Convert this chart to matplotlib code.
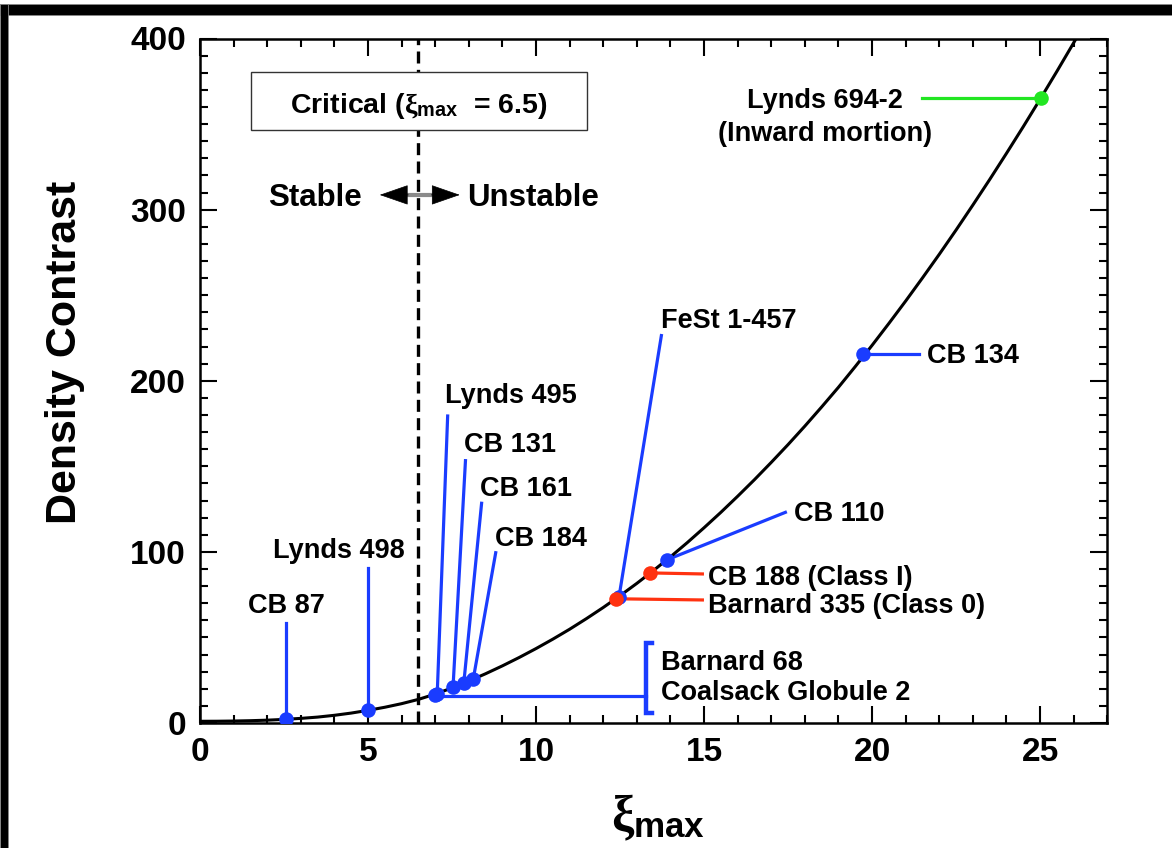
import matplotlib
matplotlib.use("Agg")
import matplotlib.pyplot as plt
from matplotlib.patches import Rectangle
from matplotlib.ticker import MultipleLocator

plt.rcParams["font.family"] = ["Liberation Sans", "DejaVu Sans"]
plt.rcParams["font.weight"] = "bold"
plt.rcParams["mathtext.fontset"] = "custom"
plt.rcParams["mathtext.rm"] = "Liberation Sans:bold"
plt.rcParams["mathtext.bf"] = "Liberation Sans:bold"
plt.rcParams["mathtext.it"] = "Liberation Serif"

# Equilibrium curve: density contrast versus dimensionless radius xi_max
xi_curve = [0.0, 0.5, 1.0, 1.5, 2.0, 2.5, 3.0, 3.5, 4.0, 4.5, 5.0, 5.5, 6.0,
            6.5, 7.0, 7.5, 8.0, 8.5, 9.0, 9.5, 10.0, 10.5, 11.0, 11.5, 12.0,
            12.5, 13.0, 13.5, 14.0, 14.5, 15.0, 15.5, 16.0, 16.5, 17.0, 17.5,
            18.0, 18.5, 19.0, 19.5, 20.0, 20.5, 21.0, 21.5, 22.0, 22.5, 23.0,
            23.5, 24.0, 24.5, 25.0, 25.5, 26.0, 26.5]
contrast_curve = [1.00, 1.03, 1.15, 1.35, 1.65, 2.1, 2.7, 3.45, 4.5, 5.8, 7.4,
                  9.2, 11.3, 13.8, 16.9, 20.5, 24.5, 28.8, 33.4, 38.3, 43.5,
                  49.0, 54.8, 61.0, 67.5, 74.4, 81.6, 89.2, 97.1, 105.4, 114.1,
                  123.1, 132.5, 142.2, 152.3, 162.7, 173.5, 184.7, 196.2,
                  208.3, 220.7, 233.5, 246.6, 260.1, 273.9, 288.1, 302.7,
                  317.6, 332.9, 348.5, 364.5, 380.8, 397.5, 414.5]

xi_critical = 6.5

# Globules (blue)
blue_names = ["CB 87", "Lynds 498", "Barnard 68", "Lynds 495", "CB 131",
              "CB 161", "CB 184", "FeSt 1-457", "CB 110", "CB 134"]
blue_xi = [2.56, 5.0, 6.98, 7.06, 7.53, 7.85, 8.13, 12.47, 13.90, 19.74]
blue_contrast = [2.2, 7.5, 16.6, 17.2, 21.0, 23.3, 25.5, 73.8, 95.4, 215.5]

# Star-forming globules (red)
red_names = ["CB 188 (Class I)", "Barnard 335 (Class 0)"]
red_xi = [13.40, 12.37]
red_contrast = [87.7, 72.6]

# Infalling core (green)
green_names = ["Lynds 694-2\n(Inward mortion)"]
green_xi = [25.03]
green_contrast = [365.5]

BLUE = "#1a3cff"
RED = "#ff3210"
GREEN = "#22e622"

fig = plt.figure(figsize=(11.72, 8.48), dpi=100)
ax = fig.add_axes([200 / 1172, 1 - 723 / 848, 907.3 / 1172, 684.5 / 848])
ax.set_xlim(0, 27)
ax.set_ylim(0, 400)

ax.plot(xi_curve, contrast_curve, color="black", lw=2.2, zorder=3,
        solid_joinstyle="round")
ax.axvline(xi_critical, color="black", lw=2.4, dashes=(3.6, 1.9), zorder=2)

LW = 2.3
# Leader lines: end point of the leader, label position, alignment
layout = {
    "CB 87": ((2.56, 58.4), (2.56, 68.5), "center"),
    "Lynds 498": ((5.0, 90.6), (4.13, 100.7), "center"),
    "Lynds 495": ((7.37, 179.4), (7.29, 191.1), "left"),
    "CB 131": ((7.90, 153.3), (7.86, 162.2), "left"),
    "CB 161": ((8.38, 128.4), (8.33, 136.5), "left"),
    "CB 184": ((8.80, 99.5), (8.77, 107.7), "left"),
    "FeSt 1-457": ((13.73, 226.4), (13.73, 234.9), "left"),
    "CB 110": ((17.42, 123.1), (17.69, 122.3), "left"),
    "CB 134": ((21.39, 215.5), (21.63, 214.3), "left"),
}
lab_fs = 19.5
for name, x, y in zip(blue_names, blue_xi, blue_contrast):
    if name not in layout:
        continue
    (ex, ey), (tx, ty), ha = layout[name]
    ax.plot([x, ex], [y, ey], color=BLUE, lw=LW, zorder=2)
    ax.text(tx, ty, name, ha=ha, va="center", fontsize=lab_fs,
            fontweight="bold")

# Barnard 68 / Coalsack Globule 2 bracket
b68_x = blue_xi[2]
ax.plot([b68_x, 13.28], [16.0, 16.0], color=BLUE, lw=LW, zorder=2)
ax.plot([13.45, 13.28, 13.28, 13.45], [46.6, 46.6, 5.7, 5.7], color=BLUE,
        lw=3.2, zorder=2, solid_joinstyle="miter")
ax.text(13.73, 35.2, "Barnard 68", ha="left", va="center", fontsize=lab_fs,
        fontweight="bold")
ax.text(13.73, 17.3, "Coalsack Globule 2", ha="left", va="center",
        fontsize=lab_fs, fontweight="bold")

# Red points
red_layout = [((14.95, 87.1), (15.12, 84.9)), ((14.95, 71.9), (15.12, 68.4))]
for name, x, y, ((ex, ey), (tx, ty)) in zip(red_names, red_xi, red_contrast,
                                            red_layout):
    ax.plot([x, ex], [y, ey], color=RED, lw=LW, zorder=2)
    ax.text(tx, ty, name, ha="left", va="center", fontsize=lab_fs,
            fontweight="bold")

# Green point
gx, gy = green_xi[0], green_contrast[0]
ax.plot([gx, 21.49], [gy, gy], color=GREEN, lw=LW, zorder=2)
line1, line2 = green_names[0].split("\n")
ax.text(18.6, 363.5, line1, ha="center", va="center", fontsize=lab_fs,
        fontweight="bold")
ax.text(18.6, 344.0, line2, ha="center", va="center", fontsize=lab_fs,
        fontweight="bold")

MS = 10.5
ax.plot(blue_xi, blue_contrast, "o", color=BLUE, ms=MS, mew=0, zorder=5)
ax.plot(red_xi, red_contrast, "o", color=RED, ms=MS, mew=0, zorder=5)
ax.plot(green_xi, green_contrast, "o", color=GREEN, ms=MS, mew=0, zorder=5)

# Critical value box
ax.add_patch(Rectangle((1.52, 346.6), 10.01, 33.7, facecolor="white",
                       edgecolor="#333333", lw=1.0, zorder=4))
ax.text(6.52, 356.3, r"Critical ($\xi_{\mathbf{max}}$  = 6.5)", ha="center",
        va="baseline", fontsize=20.5, fontweight="bold", zorder=6)

# Stable / Unstable arrows
ax.plot([5.9, 7.2], [308.6, 308.6], color="#8a8a8a", lw=3, zorder=3)
for tip, tail in ((5.35, 6.2), (7.73, 6.88)):
    ax.annotate("", xy=(tip, 308.6), xytext=(tail, 308.6),
                arrowprops=dict(arrowstyle="-|>,head_length=0.95,head_width=0.33",
                                mutation_scale=20, color="black", lw=0.5,
                                shrinkA=0, shrinkB=0),
                zorder=4)
ax.text(4.81, 307.0, "Stable", ha="right", va="center", fontsize=22.5,
        fontweight="bold")
ax.text(7.96, 307.0, "Unstable", ha="left", va="center", fontsize=22.5,
        fontweight="bold")

# Axes styling
for sp in ax.spines.values():
    sp.set_linewidth(1.8)
ax.xaxis.set_major_locator(MultipleLocator(5))
ax.xaxis.set_minor_locator(MultipleLocator(1))
ax.yaxis.set_major_locator(MultipleLocator(100))
ax.yaxis.set_minor_locator(MultipleLocator(10))
ax.tick_params(which="both", direction="in", top=True, right=True, width=1.5)
ax.tick_params(which="major", length=12, labelsize=24, pad=10)
ax.tick_params(which="minor", length=5.5)
for lab in ax.get_xticklabels() + ax.get_yticklabels():
    lab.set_fontweight("bold")

fig.text(65 / 1172, 1 - 352 / 848, "Density Contrast", rotation=90,
         ha="center", va="center", fontsize=31, fontweight="bold")
fig.text(658 / 1172, 1 - 818 / 848, r"$\xi_{\mathbf{max}}$", ha="center",
         va="center", fontsize=36)

# Black frame along the top and left edges
fig.patches.append(Rectangle((0, 1 - 15 / 848), 1, 11 / 848,
                             transform=fig.transFigure, facecolor="black",
                             edgecolor="#888888", lw=0.6))
fig.patches.append(Rectangle((0, 0), 8 / 1172, 1 - 4 / 848,
                             transform=fig.transFigure, facecolor="black",
                             edgecolor="#888888", lw=0.6))

fig.savefig("out.png", dpi=100)
